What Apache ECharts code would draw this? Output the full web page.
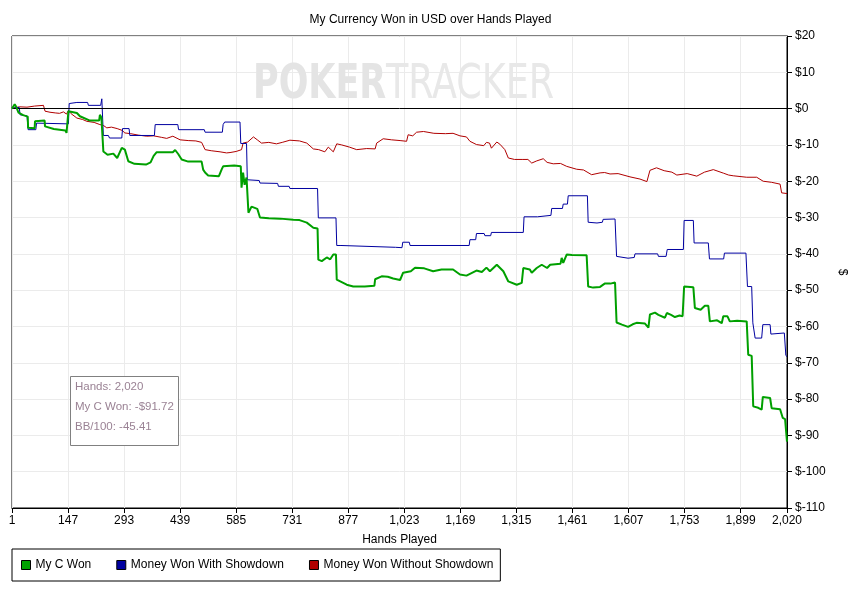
<!DOCTYPE html>
<html>
<head>
<meta charset="utf-8">
<script src="https://cdn.jsdelivr.net/npm/echarts@6/dist/echarts.min.js"></script>
<style>html,body{margin:0;padding:0;background:#fff}#c{width:861px;height:593px}</style>
</head>
<body>
<div id="c"></div>
<script>
// ---- data (hand, value in USD) ----
const xTicks = [1,147,293,439,585,731,877,1023,1169,1315,1461,1607,1753,1899,2020];
const seriesNames = ['My C Won','Money Won With Showdown','Money Won Without Showdown'];
const infoLines = ['Hands: 2,020','My C Won: -$91.72','BB/100: -45.41'];

const myCWon = [[1,0],[8,1.2],[12,0.5],[18,-1.1],[30,-1.8],[42,-2.2],[43,-5.3],[60,-5.4],[61,-3.5],[86,-3.3],[87,-4.9],[110,-5.6],[140,-6],[143,-6.7],[148,-0.7],[170,-1.2],[178,-2.1],[204,-3.3],[228,-3.3],[230,-1.7],[234,-2.5],[239,-11.8],[250,-12.7],[265,-12.4],[275,-13.6],[287,-10.8],[295,-11.3],[304,-14.5],[320,-15.2],[350,-15.4],[362,-14.8],[370,-13],[378,-12],[420,-12],[426,-11.4],[434,-12.5],[443,-14],[460,-14.6],[495,-14.6],[499,-16.8],[504,-17.6],[512,-18.4],[540,-18.6],[547,-16.8],[551,-15.9],[580,-15.7],[597,-15.9],[599,-21.8],[603,-17.6],[607,-21],[612,-19],[617,-28.7],[625,-27],[640,-27.6],[647,-30],[670,-30.2],[700,-30.3],[734,-30.6],[750,-30.7],[769,-31.4],[786,-32.8],[797,-33],[799,-41.6],[808,-42],[821,-41],[830,-41.5],[838,-40.2],[845,-40.2],[847,-47.1],[860,-47.8],[873,-48.5],[890,-49],[920,-49],[945,-48.8],[947,-47],[964,-46.2],[980,-46.3],[994,-46.8],[1012,-47.2],[1020,-45.2],[1040,-44.8],[1051,-43.8],[1075,-44],[1098,-44.8],[1120,-44.3],[1150,-44.3],[1168,-45.7],[1185,-46],[1211,-44.6],[1225,-45],[1237,-43.8],[1246,-44.8],[1264,-43],[1281,-44.8],[1294,-47.6],[1316,-48.5],[1329,-48],[1333,-43.9],[1350,-44.3],[1355,-45.2],[1368,-43.9],[1381,-43],[1395,-43.9],[1403,-43],[1407,-42.5],[1430,-42.7],[1433,-41.1],[1437,-42.5],[1446,-40.2],[1460,-40.3],[1498,-40.4],[1502,-49],[1515,-49.3],[1533,-49.1],[1545,-48.2],[1550,-47.8],[1560,-48.2],[1572,-47.9],[1576,-58.9],[1590,-59.5],[1606,-60.1],[1618,-59.4],[1628,-59],[1650,-59.2],[1659,-60.3],[1663,-56.7],[1676,-56.2],[1685,-56.8],[1702,-57.6],[1707,-56.3],[1718,-56.8],[1728,-57.4],[1740,-57],[1748,-57.2],[1752,-49],[1776,-49.2],[1780,-54.9],[1795,-55.4],[1806,-54.3],[1815,-54.3],[1819,-58.6],[1838,-58.3],[1850,-59.1],[1854,-57.2],[1865,-57.2],[1871,-58.6],[1890,-58.4],[1915,-58.6],[1919,-67.8],[1928,-68.1],[1932,-82],[1945,-82.4],[1954,-82.9],[1957,-79.4],[1976,-79.7],[1980,-82.5],[2002,-82.8],[2009,-85.2],[2015,-85.5],[2020,-91.72]];

const withShowdown = [[1,0],[10,0.3],[20,0.3],[22,-1.7],[40,-2],[43,-5.8],[63,-5.8],[65,-4],[148,-4.2],[150,1.4],[170,1.7],[198,1.7],[200,0.9],[232,0.9],[235,2.7],[239,-7.4],[252,-7.4],[255,-8.1],[287,-8.1],[289,-5.5],[306,-5.5],[308,-7.4],[372,-7.4],[374,-4.4],[433,-4.4],[435,-5.8],[502,-5.8],[504,-6.5],[549,-6.5],[551,-4.4],[555,-3.7],[595,-3.7],[597,-9.6],[612,-9.6],[614,-19.6],[645,-19.8],[647,-20.5],[693,-20.6],[695,-21.4],[723,-21.4],[725,-22],[797,-22],[799,-30.1],[845,-30.1],[847,-37.7],[858,-37.7],[860,-37.9],[1000,-38.2],[1017,-38.3],[1019,-36.8],[1036,-36.8],[1038,-37.7],[1192,-37.7],[1194,-36.1],[1209,-36.1],[1211,-34.4],[1231,-34.4],[1233,-35],[1248,-35],[1250,-34.1],[1333,-34.1],[1335,-29.8],[1370,-29.8],[1372,-29.4],[1405,-29.4],[1407,-27.5],[1435,-27.5],[1437,-26.3],[1448,-26.3],[1450,-24],[1500,-24],[1502,-31.3],[1525,-31.5],[1539,-31.3],[1541,-30.5],[1572,-30.4],[1576,-40.7],[1606,-41.2],[1622,-41],[1624,-40],[1683,-40],[1685,-40.7],[1705,-40.7],[1708,-38.8],[1750,-38.8],[1752,-30.8],[1776,-30.8],[1778,-37],[1815,-37],[1818,-41.4],[1855,-41.4],[1857,-39.8],[1913,-39.8],[1917,-49],[1928,-49],[1931,-59],[1934,-59],[1937,-63.2],[1954,-63.2],[1957,-59.5],[1976,-59.5],[1978,-62.1],[1982,-61.8],[2013,-61.8],[2017,-68],[2020,-68.3]];

const withoutShowdown = [[1,0],[6,0.2],[20,0.5],[40,0.4],[60,0.7],[83,0.9],[87,-0.7],[100,-1],[115,-1.2],[125,-1.3],[135,-0.9],[143,-1.5],[148,-0.5],[155,-1.4],[170,-2.6],[185,-3],[196,-3.5],[215,-3.8],[230,-4.4],[240,-4.7],[248,-5.3],[260,-5.1],[275,-5.5],[288,-6],[295,-6.7],[310,-6.9],[330,-7.3],[352,-7.6],[370,-7.5],[390,-7.9],[404,-8.2],[420,-7.6],[439,-8.6],[460,-8.8],[480,-8.9],[495,-9.3],[504,-11.3],[520,-11.6],[543,-11.9],[560,-12.2],[569,-12.1],[585,-11.8],[599,-11.3],[603,-9.5],[615,-9.2],[630,-7.8],[640,-8.6],[651,-9.5],[670,-9.3],[690,-9.7],[705,-9.3],[725,-8.7],[750,-8.9],[769,-9.5],[786,-11.1],[800,-11.3],[816,-11.9],[825,-10.6],[838,-11.9],[847,-9.7],[860,-10],[880,-10.6],[899,-11.3],[925,-11],[947,-11.1],[951,-9.5],[968,-8.3],[990,-8.6],[1012,-8.8],[1029,-9],[1033,-7.2],[1045,-7.5],[1055,-6.5],[1073,-6.3],[1100,-6.8],[1130,-6.9],[1150,-6.8],[1168,-7.5],[1185,-7.8],[1194,-9],[1211,-9.9],[1230,-10.2],[1237,-9.3],[1245,-9.5],[1250,-10.9],[1264,-9.2],[1272,-9.8],[1285,-11.3],[1294,-13.6],[1310,-14],[1330,-14],[1345,-14],[1355,-15],[1368,-14.4],[1385,-13.8],[1395,-14.8],[1411,-15.2],[1430,-15.1],[1446,-15.9],[1472,-16.7],[1490,-16.9],[1511,-18.2],[1533,-17.7],[1545,-17.6],[1559,-18],[1580,-17.9],[1611,-18.8],[1637,-19.4],[1655,-20.1],[1659,-20.5],[1663,-17],[1680,-16.3],[1700,-17.1],[1720,-17.5],[1733,-18.3],[1760,-17.9],[1785,-18.6],[1805,-17.5],[1828,-16.8],[1855,-17.8],[1868,-18.3],[1880,-18.5],[1915,-18.9],[1941,-18.9],[1958,-20],[1980,-20.3],[2002,-20.8],[2006,-23.2],[2020,-23.4]];

const colors = ['#00a000','#0000a0','#b00000'];
const FONT = 'Liberation Sans';
const INFO_COLOR = '#9a8294';

const chart = echarts.init(document.getElementById('c'));
chart.setOption({
  animation: false,
  backgroundColor: '#fff',
  title: {
    text: 'My Currency Won in USD over Hands Played',
    left: 'center', top: 9,
    textStyle: {fontFamily: FONT, fontSize: 12, fontWeight: 'normal', color: '#000'}
  },
  grid: {left: 12, right: 74, top: 36, bottom: 85, show: true, borderColor: '#000', borderWidth: 1},
  legend: {
    data: seriesNames,
    left: 12, top: 549,
    orient: 'horizontal',
    icon: 'rect', itemWidth: 9, itemHeight: 9, itemGap: 25,
    padding: [10, 7, 10, 9],
    borderColor: '#000', borderWidth: 1,
    itemStyle: {borderColor: '#000', borderWidth: 1},
    textStyle: {fontFamily: FONT, fontSize: 12, color: '#000'}
  },
  xAxis: {
    type: 'value', min: 1, max: 2020,
    name: 'Hands Played', nameLocation: 'middle', nameGap: 26,
    nameTextStyle: {fontFamily: FONT, fontSize: 12, color: '#000'},
    axisLine: {show: true, onZero: false, lineStyle: {color: '#000'}},
    axisTick: {show: true, length: 5, customValues: xTicks, lineStyle: {color: '#000'}},
    axisLabel: {customValues: xTicks, margin: 7, fontFamily: FONT, fontSize: 12, color: '#000',
      formatter: v => Number(v).toLocaleString('en-US')},
    splitLine: {show: true, lineStyle: {color: '#ebebeb'}}
  },
  yAxis: {
    type: 'value', position: 'right', min: -110, max: 20, interval: 10,
    name: '$', nameLocation: 'middle', nameGap: 48, nameRotate: -90,
    nameTextStyle: {fontFamily: FONT, fontSize: 12, color: '#000'},
    axisLine: {show: true, lineStyle: {color: '#000'}},
    axisTick: {show: true, length: 5, lineStyle: {color: '#000'}},
    axisLabel: {margin: 8, fontFamily: FONT, fontSize: 12, color: '#000', formatter: v => '$' + v},
    splitLine: {show: true, lineStyle: {color: '#ebebeb'}}
  },
  graphic: [
    {type: 'text', x: 253, y: 86, scaleX: 0.81, z: 1, silent: true,
      style: {text: 'POKER', fontFamily: 'DejaVu Sans Condensed', fontWeight: 'bold', fontSize: 48,
        fill: '#e4e4e4', verticalAlign: 'middle', align: 'left'}},
    {type: 'text', x: 386, y: 86, scaleX: 0.845, z: 1, silent: true,
      style: {text: 'TRACKER', fontFamily: 'DejaVu Sans Condensed', fontWeight: 'normal', fontSize: 48,
        fill: '#e8e8e8', verticalAlign: 'middle', align: 'left'}},
    {type: 'rect', z: 100, shape: {x: 70.5, y: 376.5, width: 108, height: 69},
      style: {fill: '#fff', stroke: '#808080', lineWidth: 1}},
    {type: 'text', z: 101, x: 75, y: 381, style: {text: infoLines[0], fontFamily: FONT, fontSize: 11.5, fill: INFO_COLOR}},
    {type: 'text', z: 101, x: 75, y: 401, style: {text: infoLines[1], fontFamily: FONT, fontSize: 11.5, fill: INFO_COLOR}},
    {type: 'text', z: 101, x: 75, y: 421, style: {text: infoLines[2], fontFamily: FONT, fontSize: 11.5, fill: INFO_COLOR}}
  ],
  series: [
    {name: seriesNames[0], type: 'line', data: myCWon, showSymbol: false, z: 5,
      itemStyle: {color: colors[0]}, lineStyle: {color: colors[0], width: 2}},
    {name: seriesNames[1], type: 'line', data: withShowdown, showSymbol: false, z: 4,
      itemStyle: {color: colors[1]}, lineStyle: {color: colors[1], width: 1}},
    {name: seriesNames[2], type: 'line', data: withoutShowdown, showSymbol: false, z: 3,
      itemStyle: {color: colors[2]}, lineStyle: {color: colors[2], width: 1},
      markLine: {silent: true, symbol: 'none', label: {show: false},
        lineStyle: {color: '#000', type: 'solid', width: 1}, data: [{yAxis: 0}]}}
  ]
});
</script>
</body>
</html>
